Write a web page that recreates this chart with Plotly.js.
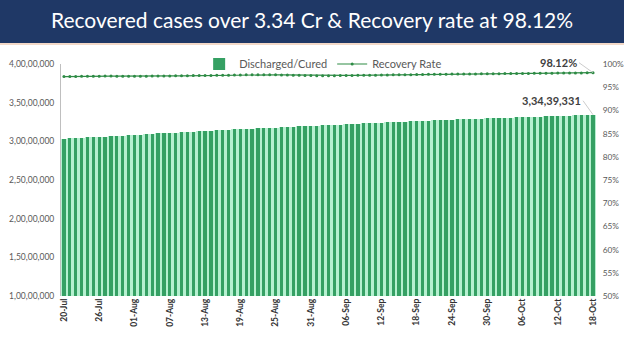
<!DOCTYPE html>
<html><head><meta charset="utf-8">
<script src="https://cdn.plot.ly/plotly-3.0.1.min.js"></script>
<style>html,body{margin:0;padding:0;background:#fff}#chart{width:624px;height:350px}</style>
</head><body><div id="chart"></div>
<script>
const dates = [
"20-Jul","21-Jul","22-Jul","23-Jul","24-Jul","25-Jul","26-Jul","27-Jul","28-Jul","29-Jul","30-Jul","31-Jul",
"01-Aug","02-Aug","03-Aug","04-Aug","05-Aug","06-Aug","07-Aug","08-Aug","09-Aug","10-Aug","11-Aug","12-Aug","13-Aug","14-Aug","15-Aug","16-Aug","17-Aug","18-Aug","19-Aug","20-Aug","21-Aug","22-Aug","23-Aug","24-Aug","25-Aug","26-Aug","27-Aug","28-Aug","29-Aug","30-Aug","31-Aug",
"01-Sep","02-Sep","03-Sep","04-Sep","05-Sep","06-Sep","07-Sep","08-Sep","09-Sep","10-Sep","11-Sep","12-Sep","13-Sep","14-Sep","15-Sep","16-Sep","17-Sep","18-Sep","19-Sep","20-Sep","21-Sep","22-Sep","23-Sep","24-Sep","25-Sep","26-Sep","27-Sep","28-Sep","29-Sep","30-Sep",
"01-Oct","02-Oct","03-Oct","04-Oct","05-Oct","06-Oct","07-Oct","08-Oct","09-Oct","10-Oct","11-Oct","12-Oct","13-Oct","14-Oct","15-Oct","16-Oct","17-Oct","18-Oct"];

const discharged = [
30353710,30390687,30429339,30468079,30503166,30543138,30579106,30621469,30663147,30701612,30743972,30781263,
30820521,30860508,30933022,30974748,31015844,31055861,31094508,31133390,31174081,31211223,31255781,31299091,31338088,31377318,31415523,31455083,31491203,31531442,31567651,31608101,31648037,31680624,31709735,31746133,31780822,31818362,31854011,31890413,31924734,31957203,31993644,
32024429,32058216,32096112,32134137,32174344,32212223,32255011,32288293,32322207,32355208,32389134,32423145,32457162,32488550,32525147,32558258,32591054,32622482,32655092,32683890,32714227,32742579,32776556,32808298,32836484,32866187,32893524,32921505,32952219,32976732,
33003300,33029100,33053800,33081000,33106300,33132100,33156900,33182200,33208600,33233100,33258000,33284900,33311700,33336000,33362900,33388000,33413900,33439331];

const recoveryRate = [
97.28,97.31,97.33,97.35,97.36,97.37,97.38,97.39,97.39,97.38,97.37,97.36,
97.36,97.37,97.38,97.39,97.40,97.42,97.43,97.45,97.46,97.48,97.51,97.52,97.52,97.54,97.55,97.57,97.60,97.64,97.65,97.66,97.67,97.68,97.68,97.68,97.67,97.65,97.63,97.60,97.57,97.53,97.51,
97.48,97.48,97.49,97.49,97.51,97.53,97.54,97.56,97.57,97.58,97.60,97.64,97.65,97.67,97.68,97.69,97.71,97.73,97.75,97.77,97.78,97.80,97.81,97.83,97.84,97.85,97.86,97.87,97.89,97.90,
97.91,97.92,97.93,97.94,97.95,97.96,97.97,97.98,97.99,98.00,98.01,98.04,98.04,98.06,98.07,98.07,98.10,98.12];

const xTicks = ["20-Jul","26-Jul","01-Aug","07-Aug","13-Aug","19-Aug","25-Aug","31-Aug","06-Sep","12-Sep","18-Sep","24-Sep","30-Sep","06-Oct","12-Oct","18-Oct"];
const leftTickVals = [10000000,15000000,20000000,25000000,30000000,35000000,40000000];
const leftTickText = ["1,00,00,000","1,50,00,000","2,00,00,000","2,50,00,000","3,00,00,000","3,50,00,000","4,00,00,000"];
const rightTickVals = [50,55,60,65,70,75,80,85,90,95,100];
const rightTickText = ["50%","55%","60%","65%","70%","75%","80%","85%","90%","95%","100%"];
const titleText = "Recovered cases over 3.34 Cr & Recovery rate at 98.12%";
const lastDischargedLabel = "3,34,39,331";
const lastRateLabel = "98.12%";

const traces = [
  {type:'bar', name:'Discharged/Cured', x:dates, y:discharged, width:1, showlegend:false,
   marker:{color:'#b6f0d0', line:{width:0}}, yaxis:'y', hoverinfo:'skip'},
  {type:'bar', name:'Discharged/Cured', x:dates, y:discharged, width:0.55,
   marker:{color:'#35a063', line:{width:0}}, yaxis:'y'},
  {type:'scatter', mode:'lines+markers', name:'Recovery Rate', x:dates, y:recoveryRate, yaxis:'y2',
   line:{color:'#2e8b45', width:1.2}, marker:{color:'#2e8b45', size:3}}
];

const n = dates.length;
const layout = {
  width:624, height:350,
  margin:{l:61, r:28, t:64, b:54},
  paper_bgcolor:'#ffffff', plot_bgcolor:'#ffffff',
  font:{family:'Lato, "Open Sans", sans-serif', color:'#595959'},
  title:{text:titleText, font:{family:'Lato, sans-serif', size:21, color:'#ffffff'},
         x:0.5, xref:'container', xanchor:'center', y:0.94, yref:'container', yanchor:'middle'},
  barmode:'overlay', bargap:0,
  showlegend:true,
  legend:{orientation:'h', x:0.49, xanchor:'center', y:1.0, yanchor:'middle',
          font:{size:11, color:'#595959'}, bgcolor:'rgba(255,255,255,0)', itemwidth:16, tracegroupgap:0},
  xaxis:{type:'category', range:[-0.5, n-0.5], tickmode:'array', tickvals:xTicks, ticktext:xTicks,
         tickangle:-90, tickfont:{size:8.5, color:'#333333', family:'Lato, sans-serif', weight:'bold'},
         showgrid:false, showline:false, ticks:'', fixedrange:true},
  yaxis:{range:[10000000, 40000000], tickmode:'array', tickvals:leftTickVals, ticktext:leftTickText,
         tickfont:{size:8.5, color:'#595959'}, showgrid:false, showline:true, linecolor:'#bfbfbf', linewidth:1,
         ticks:'outside', ticklen:4, tickcolor:'rgba(0,0,0,0)', zeroline:false},
  yaxis2:{range:[50, 100], overlaying:'y', side:'right', tickmode:'array', tickvals:rightTickVals, ticktext:rightTickText,
          tickfont:{size:8.3, color:'#595959'}, showgrid:false, showline:false,
          ticks:'outside', ticklen:4, tickcolor:'rgba(0,0,0,0)', zeroline:false},
  shapes:[
    {type:'rect', xref:'paper', yref:'paper', x0:-0.12, x1:1.06, y0:1.09, y1:1.3, fillcolor:'#1f3866', line:{width:0}, layer:'below'},
    {type:'rect', xref:'paper', yref:'paper', x0:-0.12, x1:1.06, y0:1.082, y1:1.09, fillcolor:'#f3d9c8', line:{width:0}, layer:'below'}
  ],
  annotations:[
    {x:dates[n-1], y:recoveryRate[n-1], xref:'x', yref:'y2', text:'<b>'+lastRateLabel+'</b>', showarrow:true,
     arrowhead:0, arrowwidth:0.8, arrowcolor:'#bfbfbf', ax:-14, ay:-10, xanchor:'right',
     font:{size:11, color:'#404040'}},
    {x:dates[n-1], y:discharged[n-1], xref:'x', yref:'y', text:'<b>'+lastDischargedLabel+'</b>', showarrow:true,
     arrowhead:0, arrowwidth:0.8, arrowcolor:'#bfbfbf', ax:-10, ay:-14, xanchor:'right',
     font:{size:11, color:'#404040'}}
  ]
};
Plotly.newPlot('chart', traces, layout, {displayModeBar:false, staticPlot:true});
</script></body></html>
